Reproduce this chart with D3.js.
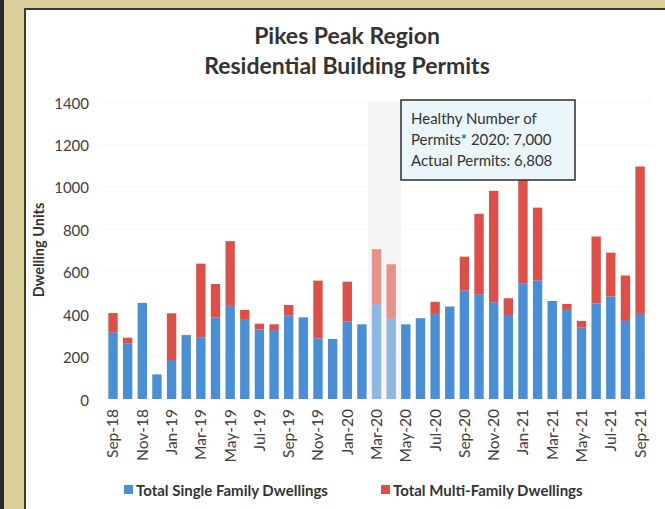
<!DOCTYPE html>
<html>
<head>
<meta charset="utf-8">
<script src="https://cdn.jsdelivr.net/npm/d3@7"></script>
<style>
  body { margin:0; background:#fff; }
  svg { display:block; font-family: Lato, "Open Sans", sans-serif; }
</style>
</head>
<body>
<svg id="chart"></svg>
<script>
// monthly permits, Sep-18 .. Sep-21
var months = ["Sep-18","Oct-18","Nov-18","Dec-18","Jan-19","Feb-19","Mar-19","Apr-19","May-19","Jun-19",
  "Jul-19","Aug-19","Sep-19","Oct-19","Nov-19","Dec-19","Jan-20","Feb-20","Mar-20","Apr-20",
  "May-20","Jun-20","Jul-20","Aug-20","Sep-20","Oct-20","Nov-20","Dec-20","Jan-21","Feb-21",
  "Mar-21","Apr-21","May-21","Jun-21","Jul-21","Aug-21","Sep-21"]
var singleFamily = [315,263,453,116,184,298,291,384,439,373,327,325,395,385,286,283,365,352,447,379,
  352,381,401,436,511,494,456,396,546,558,462,420,336,451,483,368,401]
var multiFamily = [90,26,0,0,220,4,347,158,305,47,28,27,48,0,272,0,188,0,259,256,
  0,0,57,0,160,379,525,79,495,344,0,28,32,315,207,214,695]
var yTicks = [0,200,400,600,800,1000,1200,1400]
var highlighted = ["Mar-20","Apr-20"]
var seriesNames = ["Total Single Family Dwellings","Total Multi-Family Dwellings"]
var colors = ["#4a8fd3","#db5048"]
var noteLines = ["Healthy Number of","Permits* 2020: 7,000","Actual Permits: 6,808"]

var screen = {width:665, height:509}

var svg = d3.select("#chart")
  .attr("width", screen.width)
  .attr("height", screen.height)

// scanned page frame
svg.append("rect").attr("x",0).attr("y",0).attr("width",screen.width).attr("height",10).attr("fill","#d9d09c")
svg.append("rect").attr("x",0).attr("y",0).attr("width",25).attr("height",screen.height).attr("fill","#d9d09c")
svg.append("rect").attr("x",0).attr("y",0).attr("width",4).attr("height",screen.height).attr("fill","#2a2a2a")
svg.append("rect").attr("x",24).attr("y",8).attr("width",screen.width-24).attr("height",2).attr("fill","#3a3a32")
svg.append("rect").attr("x",24).attr("y",8).attr("width",2).attr("height",screen.height-8).attr("fill","#3a3a32")

var data = months.map(function(m, i){
  return {month:m, single:singleFamily[i], multi:multiFamily[i]}
})

var xScale = d3.scaleBand()
  .domain(months)
  .range([105.7, 647.4])
  .paddingInner(0.36)
  .paddingOuter(0.18)

var yScale = d3.scaleLinear()
  .domain([0, 1400])
  .range([399, 102])

var stack = d3.stack().keys(["single","multi"])
var layers = stack(data)

// highlighted band (Mar-20 / Apr-20)
var step = xScale.step()
var bandX0 = xScale(highlighted[0]) - step*0.25
var bandX1 = xScale(highlighted[1]) + xScale.bandwidth() + step*0.35
svg.append("rect")
  .attr("x", bandX0)
  .attr("y", yScale(1400))
  .attr("width", bandX1 - bandX0)
  .attr("height", yScale(0) - yScale(1400))
  .attr("fill", "#f5f5f5")

// faint gridlines
svg.append("g")
  .selectAll("line")
  .data(yTicks.slice(1))
  .enter()
  .append("line")
  .attr("x1", 100).attr("x2", 650)
  .attr("y1", function(d){ return yScale(d) })
  .attr("y2", function(d){ return yScale(d) })
  .attr("stroke", "#efefef")
  .attr("stroke-dasharray", "2,2")

// bars
svg.append("g")
  .selectAll("g")
  .data(layers)
  .enter()
  .append("g")
  .attr("fill", function(d, i){ return colors[i] })
  .selectAll("rect")
  .data(function(d){ return d })
  .enter()
  .append("rect")
  .attr("x", function(d){ return xScale(d.data.month) })
  .attr("y", function(d){ return yScale(d[1]) })
  .attr("width", xScale.bandwidth())
  .attr("height", function(d){ return yScale(d[0]) - yScale(d[1]) })
  .attr("opacity", function(d){ return highlighted.indexOf(d.data.month) >= 0 ? 0.6 : 1 })

// y axis
var yAxis = d3.axisLeft(yScale).tickValues(yTicks).tickFormat(d3.format("d")).tickSize(0).tickPadding(0)
var yg = svg.append("g").attr("transform", "translate(89,0)").call(yAxis)
yg.select(".domain").remove()
yg.selectAll("text")
  .attr("font-size", "15px")
  .attr("font-family", "Lato, sans-serif")
  .attr("fill", "#404040")
  .attr("dy", "0.4em")

// x axis, every second month labelled
var xAxis = d3.axisBottom(xScale)
  .tickValues(months.filter(function(d, i){ return i % 2 == 0 }))
  .tickSize(0)
var xg = svg.append("g").attr("transform", "translate(0,409)").call(xAxis)
xg.select(".domain").remove()
xg.selectAll("text")
  .attr("font-size", "15.5px")
  .attr("font-family", "Lato, sans-serif")
  .attr("fill", "#404040")
  .attr("transform", "rotate(-90)")
  .attr("text-anchor", "end")
  .attr("x", 0)
  .attr("y", 0)
  .attr("dx", 0)
  .attr("dy", "0.35em")

// y axis title
svg.append("text")
  .attr("transform", "translate(44,250) rotate(-90)")
  .attr("text-anchor", "middle")
  .attr("font-size", "14.5px")
  .attr("font-weight", "bold")
  .attr("fill", "#333")
  .text("Dwelling Units")

// title
svg.append("text")
  .attr("x", 347).attr("y", 44)
  .attr("text-anchor", "middle")
  .attr("font-size", "23px")
  .attr("font-weight", "bold")
  .attr("fill", "#333")
  .text("Pikes Peak Region")
svg.append("text")
  .attr("x", 347).attr("y", 74)
  .attr("text-anchor", "middle")
  .attr("font-size", "23px")
  .attr("font-weight", "bold")
  .attr("fill", "#333")
  .text("Residential Building Permits")

// note box
svg.append("rect")
  .attr("x", 401).attr("y", 100)
  .attr("width", 174).attr("height", 80)
  .attr("fill", "#eaf6fa")
  .attr("stroke", "#2c2c2c")
  .attr("stroke-width", 1.5)
svg.append("g")
  .selectAll("text")
  .data(noteLines)
  .enter()
  .append("text")
  .attr("x", 411)
  .attr("y", function(d, i){ return 124 + i*21 })
  .attr("font-size", "15px")
  .attr("fill", "#333")
  .text(function(d){ return d })

// legend
var legendX = [124, 381]
var legend = svg.append("g")
  .selectAll("g")
  .data(seriesNames)
  .enter()
  .append("g")
  .attr("transform", function(d, i){ return "translate(" + legendX[i] + ",490)" })
legend.append("rect")
  .attr("x", 0).attr("y", -5)
  .attr("width", 9).attr("height", 9)
  .attr("fill", function(d, i){ return colors[i] })
legend.append("text")
  .attr("x", 12).attr("y", 0)
  .attr("dy", "0.38em")
  .attr("font-size", "15px")
  .attr("font-weight", "bold")
  .attr("fill", "#333")
  .text(function(d){ return d })
</script>
</body>
</html>
